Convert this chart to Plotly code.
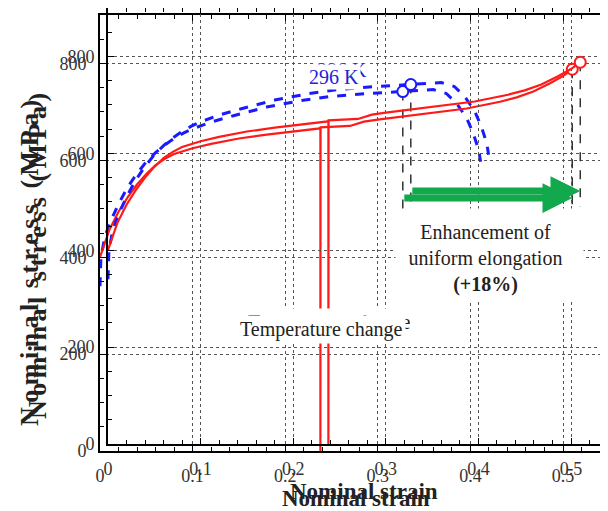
import plotly.graph_objects as go

# page is offset by the 8px body margin; the figure fills the rest of the 608x511 window
W, H = 600, 503
OFF = 8  # body margin (page px = figure px + OFF)

# ---------------- data ----------------
red_strain = [0, 0.005, 0.01, 0.02, 0.03, 0.04, 0.05, 0.06, 0.07, 0.08, 0.10, 0.12, 0.15, 0.18,
              0.21, 0.238, 0.238, 0.2382, 0.27, 0.278, 0.285, 0.30, 0.324, 0.36, 0.396, 0.432,
              0.45, 0.468, 0.486, 0.50, 0.51]
red_stress = [400, 430, 456, 494, 524, 550, 572, 590, 603, 613, 625, 634, 645, 653,
              660, 666, 0, 668, 671, 676, 680, 684, 690, 698, 707, 721,
              730, 742, 759, 774, 788]

blue_strain = [0, 0.001, 0.005, 0.01, 0.02, 0.03, 0.04, 0.05, 0.06, 0.07, 0.08, 0.09, 0.10,
               0.12, 0.144, 0.18, 0.216, 0.25, 0.29, 0.327, 0.36, 0.374, 0.385, 0.396,
               0.403, 0.409, 0.411]
blue_stress = [340, 400, 440, 468, 510, 545, 573, 597, 616, 632, 645, 656, 665,
               679, 692, 710, 723, 732, 738, 742, 746, 738, 718, 687,
               656, 621, 597]

ue_strain = [0.327, 0.51]          # uniform elongation points (blue, red)
ue_stress = [742, 788]
ue_colors = ["#1a1aff", "#ff1a1a"]
guide_bottom = 490                 # lower end of dashed guide lines
arrow_stress = 522

x_tickvals = [0, 0.1, 0.2, 0.3, 0.4, 0.5]
x_ticktext = ["0", "0.1", "0.2", "0.3", "0.4", "0.5"]
y_tickvals = [0, 200, 400, 600, 800]
y_ticktext = ["0", "200", "400", "600", "800"]

SERIF = "Liberation Serif, Times New Roman, serif"

fig = go.Figure()

frames = [("x2", "y2"), ("x", "y")]   # ghost frame first, main frame on top
for xa, ya in frames:
    for sx, sy in zip(ue_strain, ue_stress):
        fig.add_trace(go.Scatter(x=[sx, sx], y=[sy, guide_bottom], mode="lines",
                                 line=dict(color="#333333", width=1.5, dash="dash"),
                                 xaxis=xa, yaxis=ya, showlegend=False, hoverinfo="skip"))
    fig.add_trace(go.Scatter(x=blue_strain, y=blue_stress, mode="lines",
                             line=dict(color="#1a1aff", width=3, dash="dash"),
                             xaxis=xa, yaxis=ya, showlegend=False))
    fig.add_trace(go.Scatter(x=red_strain, y=red_stress, mode="lines",
                             line=dict(color="#ff1a1a", width=2.2),
                             xaxis=xa, yaxis=ya, showlegend=False))
    fig.add_trace(go.Scatter(x=ue_strain, y=ue_stress, mode="markers",
                             marker=dict(symbol="circle", size=11, color="white",
                                         line=dict(color=ue_colors, width=2)),
                             xaxis=xa, yaxis=ya, showlegend=False))


def px_x(p):  # page px -> paper fraction
    return (p - OFF) / W


def px_y(p):
    return 1 - (p - OFF) / H


def axis_common():
    return dict(showline=True, linecolor="black", linewidth=2, mirror="ticks",
                ticks="inside", ticklen=6, tickwidth=1.2, tickcolor="black",
                showgrid=True, gridcolor="#555555", griddash="dot", gridwidth=1,
                zeroline=False, automargin=False,
                tickfont=dict(family=SERIF, size=18, color="#333333"))


def make_axes(left, top, bottom, xanchor, yanchor):
    xa = axis_common()
    xa.update(domain=[px_x(left), 1], range=[0, (W + OFF - left) / 926], anchor=yanchor,
              tickvals=x_tickvals, ticktext=x_ticktext, ticklabelstandoff=7,
              minor=dict(dtick=0.02, tick0=0, ticks="inside", ticklen=4, tickcolor="black",
                         showgrid=False))
    ya = axis_common()
    ya.update(domain=[px_y(bottom), px_y(top)], range=[0, 900], anchor=xanchor,
              tickvals=y_tickvals, ticktext=y_ticktext, ticklabelstandoff=8,
              minor=dict(dtick=50, tick0=0, ticks="inside", ticklen=4, tickcolor="black",
                         showgrid=False))
    return xa, ya


xa_main, ya_main = make_axes(100, 15, 451, "x", "y")
xa_ghost, ya_ghost = make_axes(108, 8, 444, "x2", "y2")

annotations = []
for xa, ya in frames:
    annotations.append(dict(x=ue_strain[1], y=arrow_stress, ax=ue_strain[0], ay=arrow_stress,
                            xref=xa, yref=ya, axref=xa, ayref=ya, text="", showarrow=True,
                            arrowhead=2, arrowsize=0.85, arrowwidth=7, arrowcolor="#12a84c"))
    annotations.append(dict(x=0.4158, y=398, xref=xa, yref=ya, showarrow=False,
                            xanchor="center", yanchor="middle",
                            text="Enhancement of<br>uniform elongation<br><b>(+18%)</b>",
                            font=dict(family=SERIF, size=20, color="#222222"),
                            bgcolor="white", width=171, height=77, borderpad=4))
    annotations.append(dict(x=0.2397, y=250, xref=xa, yref=ya, showarrow=False,
                            xanchor="center", yanchor="middle",
                            text="Temperature change",
                            font=dict(family=SERIF, size=20, color="#222222"),
                            bgcolor="white", borderpad=2))
    annotations.append(dict(x=0.2527, y=772, xref=xa, yref=ya, showarrow=False,
                            xanchor="center", yanchor="middle",
                            text="296 K",
                            font=dict(family=SERIF, size=20, color="#2323d8"),
                            bgcolor="white", borderpad=1))

for dx, dy in [(8, -7), (0, 0)]:
    annotations.append(dict(x=px_x(356 + dx), y=px_y(498 + dy), xref="paper", yref="paper",
                            xanchor="center", yanchor="middle",
                            showarrow=False, text="<b>Nominal strain</b>",
                            font=dict(family=SERIF, size=23, color="#222222")))
    annotations.append(dict(x=px_x(29 + dx), y=px_y(261 + dy), xref="paper", yref="paper",
                            xanchor="center", yanchor="middle",
                            showarrow=False, textangle=-90,
                            text="<b><span style='letter-spacing:4.5px'>Nominal stress (MPa)</span></b>",
                            font=dict(family=SERIF, size=26, color="#222222")))

fig.update_layout(width=W, height=H, margin=dict(l=0, r=0, t=0, b=0),
                  paper_bgcolor="white", plot_bgcolor="rgba(0,0,0,0)",
                  xaxis=xa_main, yaxis=ya_main, xaxis2=xa_ghost, yaxis2=ya_ghost,
                  annotations=annotations, showlegend=False)

fig.write_html("out.html")
